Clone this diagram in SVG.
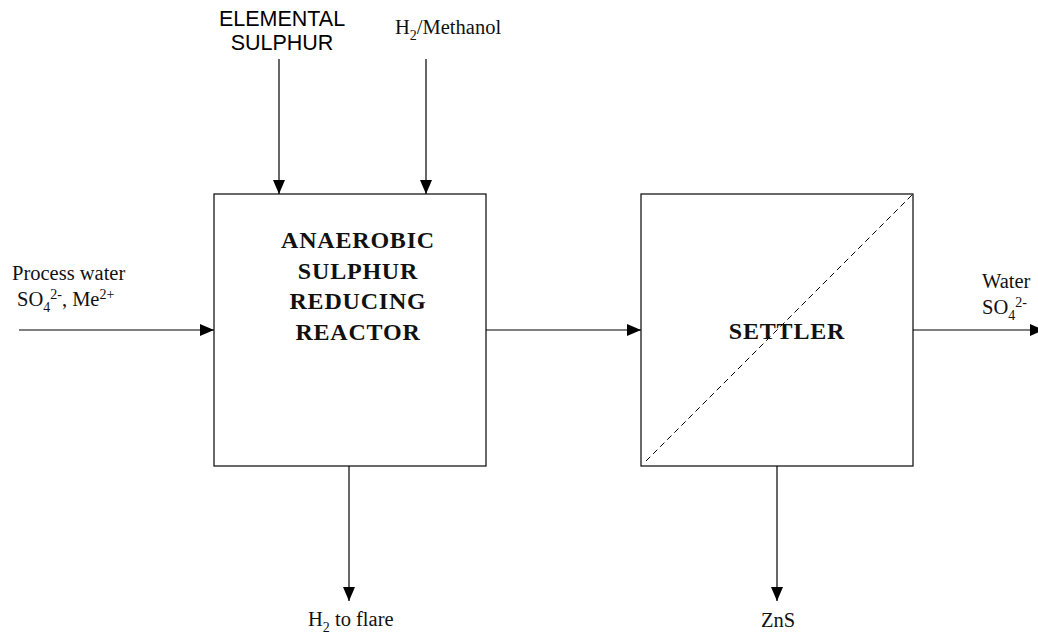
<svg xmlns="http://www.w3.org/2000/svg" width="1038" height="637" viewBox="0 0 1038 637">
  <style>
    .box { fill: #ffffff; stroke: #1a1a1a; stroke-width: 1.3; }
    .flow { fill: none; stroke: #000000; stroke-width: 1.2; marker-end: url(#head); }
    .sep { fill: none; stroke: #000000; stroke-width: 1; stroke-dasharray: 6 4; }
    .sans { font-family: "Liberation Sans", Arial, sans-serif; font-size: 21.5px; fill: #000; }
    .serif { font-family: "Liberation Serif", "Times New Roman", serif; font-size: 20.5px; fill: #111; }
    .sub { font-size: 14px; }
    .title { font-family: "Liberation Serif", "Times New Roman", serif; font-size: 24px; font-weight: bold; fill: #111; letter-spacing: 0.8px; }
  </style>
  <defs>
    <marker id="head" markerWidth="14" markerHeight="12" refX="14" refY="6" orient="auto" markerUnits="userSpaceOnUse">
      <path d="M0,0 L14,6 L0,12 Z" fill="#000"/>
    </marker>
  </defs>
  <rect width="1038" height="637" fill="#ffffff"/>

  <!-- Process units -->
  <g id="reactor">
    <rect class="box" x="214" y="194" width="272" height="272"/>
    <text class="title" text-anchor="middle" x="358" y="248">ANAEROBIC</text>
    <text class="title" text-anchor="middle" x="358" y="279">SULPHUR</text>
    <text class="title" text-anchor="middle" x="358" y="309">REDUCING</text>
    <text class="title" text-anchor="middle" x="358" y="340">REACTOR</text>
  </g>

  <g id="settler">
    <rect class="box" x="641" y="194" width="272" height="272"/>
    <line class="sep" x1="646" y1="461" x2="913" y2="194"/>
    <text class="title" text-anchor="middle" x="787" y="339">SETTLER</text>
  </g>

  <!-- Streams -->
  <g id="connectors">
    <line class="flow" x1="279" y1="59" x2="279" y2="194"/>
    <line class="flow" x1="426" y1="59" x2="426" y2="194"/>
    <line class="flow" x1="19" y1="330" x2="214" y2="330"/>
    <line class="flow" x1="486" y1="330" x2="641" y2="330"/>
    <line class="flow" x1="913" y1="330" x2="1044" y2="330"/>
    <line class="flow" x1="349" y1="466" x2="349" y2="601"/>
    <line class="flow" x1="777" y1="466" x2="777" y2="601"/>
  </g>

  <!-- Stream labels -->
  <g id="label-sulphur">
    <text class="sans" text-anchor="middle" x="282" y="26">ELEMENTAL</text>
    <text class="sans" text-anchor="middle" x="282" y="50">SULPHUR</text>
  </g>
  <g id="label-methanol">
    <text class="serif" x="395" y="34">H<tspan class="sub" dy="6">2</tspan><tspan dy="-6">/Methanol</tspan></text>
  </g>
  <g id="label-feed">
    <text class="serif" x="12" y="280">Process water</text>
    <text class="serif" x="17" y="306">SO<tspan class="sub" dy="6">4</tspan><tspan class="sub" dy="-13">2-</tspan><tspan dy="7">, Me</tspan><tspan class="sub" dy="-7">2+</tspan></text>
  </g>
  <g id="label-water">
    <text class="serif" x="982" y="288">Water</text>
    <text class="serif" x="982" y="314">SO<tspan class="sub" dy="6">4</tspan><tspan class="sub" dy="-13">2-</tspan></text>
  </g>
  <g id="label-flare">
    <text class="serif" x="308" y="626">H<tspan class="sub" dy="6">2</tspan><tspan dy="-6"> to flare</tspan></text>
  </g>
  <g id="label-zns">
    <text class="serif" text-anchor="middle" x="778" y="627">ZnS</text>
  </g>
</svg>
